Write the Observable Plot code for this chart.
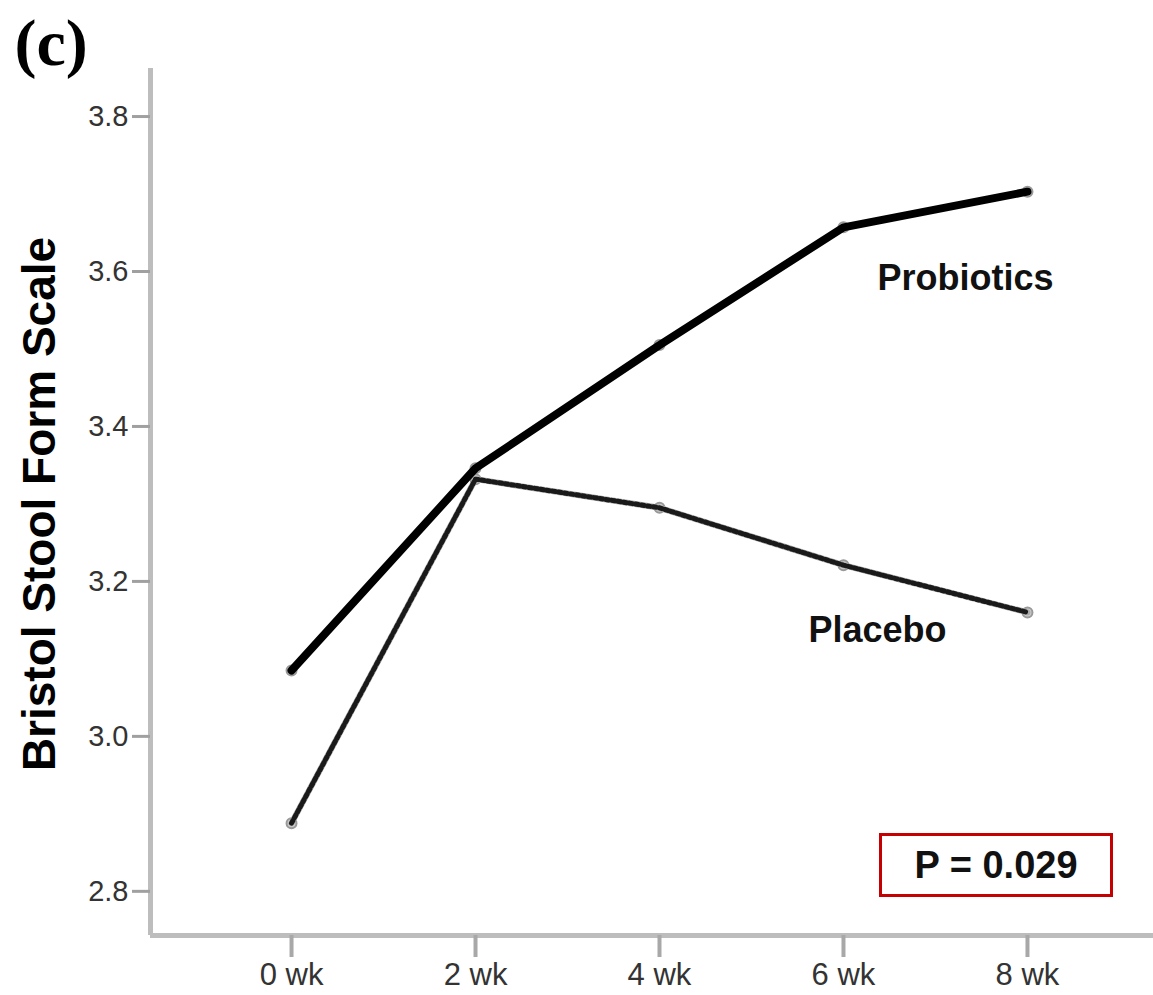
<!DOCTYPE html>
<html>
<head>
<meta charset="utf-8">
<script src="https://cdn.jsdelivr.net/npm/d3@7"></script>
<script src="https://cdn.jsdelivr.net/npm/@observablehq/plot@0.6"></script>
<style>
  html, body { margin: 0; padding: 0; background: #fff; }
  #wrap { position: relative; width: 1153px; height: 995px; }
  #pbox {
    position: absolute; left: 879px; top: 833px; width: 228px; height: 58px;
    border: 3px solid #c40000; box-sizing: content-box;
    font-family: "Liberation Sans", Arial, sans-serif; font-weight: bold;
    font-size: 38px; color: #111; display: flex; align-items: center; justify-content: center;
  }
</style>
</head>
<body>
<div id="wrap"></div>
<script>
const weeks = [0, 2, 4, 6, 8];
const weekLabels = ["0 wk", "2 wk", "4 wk", "6 wk", "8 wk"];
const probiotics = [3.085, 3.346, 3.505, 3.657, 3.703];
const placebo = [2.888, 3.332, 3.295, 3.221, 3.160];
const yTicks = [2.8, 3.0, 3.2, 3.4, 3.6, 3.8];
const pText = "P = 0.029";

const probData = weeks.map((w, i) => ({week: w, value: probiotics[i], group: "Probiotics"}));
const placData = weeks.map((w, i) => ({week: w, value: placebo[i], group: "Placebo"}));

const xMin = -1.533, xMax = 9.37, yMin = 2.743, yMax = 3.862;
const font = "Liberation Sans, Arial, sans-serif";

const chart = Plot.plot({
  width: 1153,
  height: 995,
  marginLeft: 150,
  marginRight: 0,
  marginTop: 68,
  marginBottom: 60,
  style: {fontFamily: font, background: "#fff"},
  x: {domain: [xMin, xMax]},
  y: {domain: [yMin, yMax]},
  marks: [
    Plot.ruleX([xMin], {stroke: "#bdbdbd", strokeWidth: 5}),
    Plot.ruleY([yMin], {stroke: "#bdbdbd", strokeWidth: 5}),
    Plot.axisY(yTicks, {
      tickSize: 18, tickPadding: 4, stroke: "#a0a0a0", strokeWidth: 3,
      fill: "#333", fontSize: 29, tickFormat: d => d.toFixed(1), label: null
    }),
    Plot.axisX(weeks, {
      tickSize: 22, tickPadding: 5, stroke: "#a8a8a8", strokeWidth: 4,
      fill: "#333", fontSize: 31, tickFormat: (d) => weekLabels[weeks.indexOf(d)], label: null
    }),
    Plot.text(["Bristol Stool Form Scale"], {
      frameAnchor: "left", textAnchor: "middle", rotate: -90, dx: -110, dy: 2,
      fontSize: 46, fontWeight: "bold", fill: "#000"
    }),
    Plot.text(["(c)"], {
      frameAnchor: "top-left", textAnchor: "start", dx: -136, dy: -50,
      fontSize: 66, fontWeight: "bold", fontFamily: "Liberation Serif, serif", fill: "#000"
    }),
    Plot.dot([...probData, ...placData], {x: "week", y: "value", r: 5, stroke: "#999", strokeWidth: 2, fill: "#ccc"}),
    Plot.line(placData, {x: "week", y: "value", stroke: "#aaaaaa", strokeWidth: 6}),
    Plot.line(placData, {x: "week", y: "value", stroke: "#1a1a1a", strokeWidth: 5, strokeDasharray: "3,3"}),
    Plot.line(probData, {x: "week", y: "value", stroke: "#000", strokeWidth: 8, strokeLinejoin: "miter"}),
    Plot.text(probData.slice(-1), {x: "week", y: "value", text: "group", dx: -62, dy: 87,
      fontSize: 36, fontWeight: "bold", fill: "#111"}),
    Plot.text(placData.slice(-1), {x: "week", y: "value", text: "group", dx: -150, dy: 18,
      fontSize: 36, fontWeight: "bold", fill: "#111"})
  ]
});

const wrap = document.getElementById("wrap");
wrap.appendChild(chart);
const box = document.createElement("div");
box.id = "pbox";
box.textContent = pText;
wrap.appendChild(box);
</script>
</body>
</html>
